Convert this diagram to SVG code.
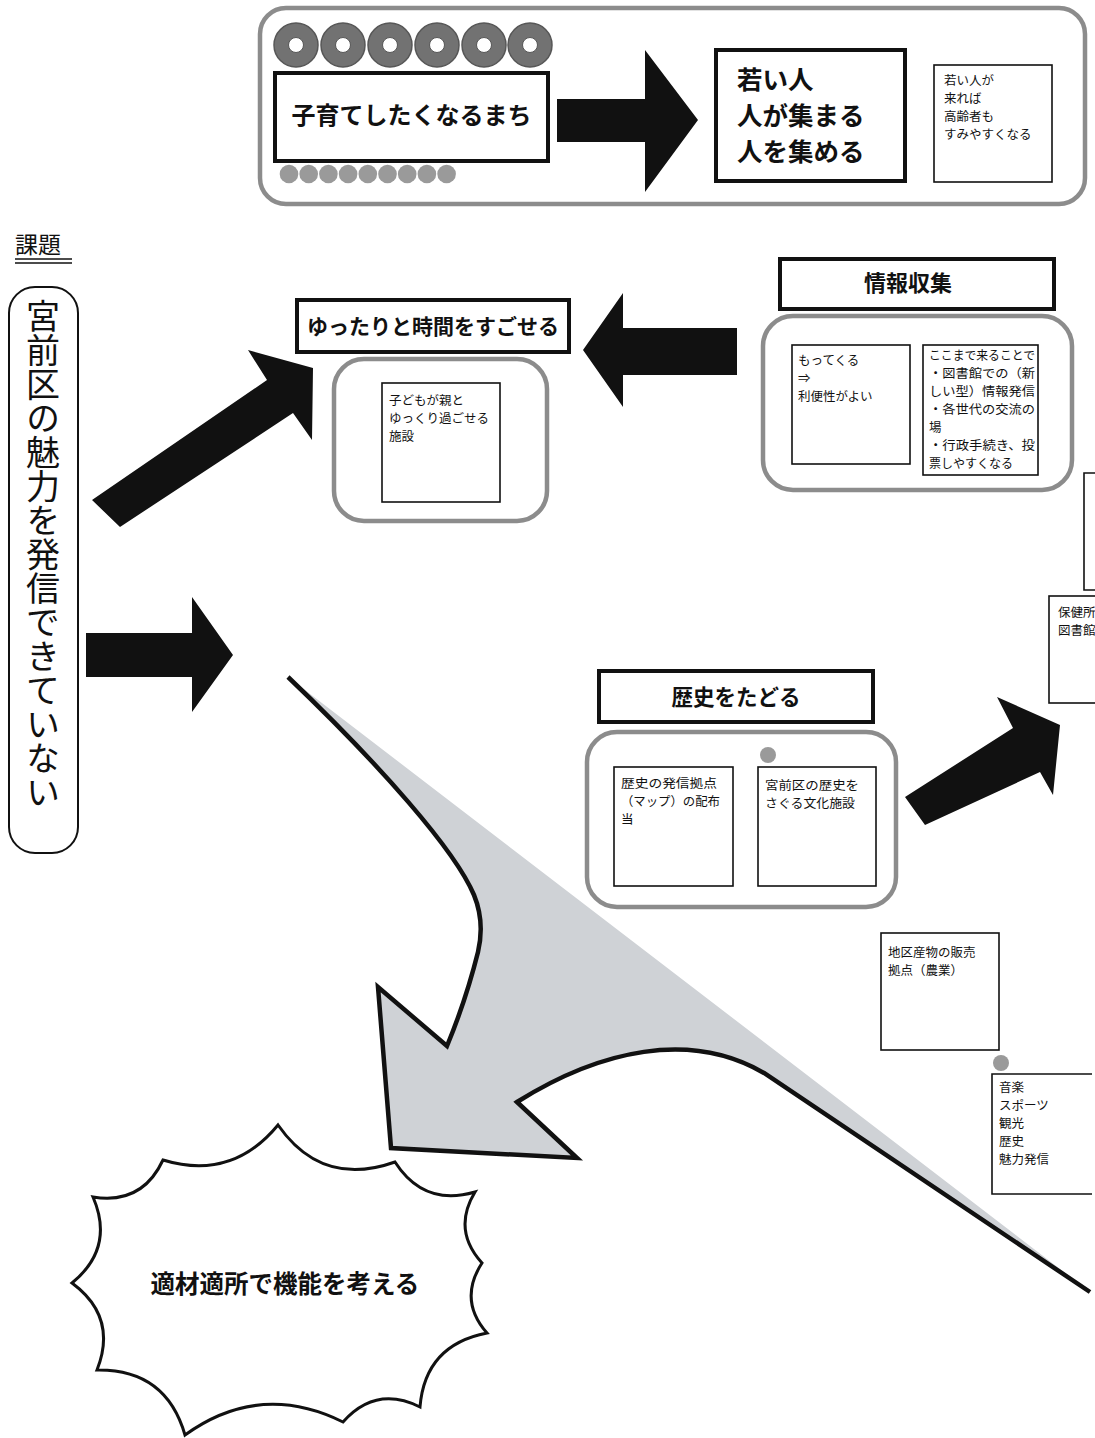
<svg xmlns="http://www.w3.org/2000/svg" width="1095" height="1438" viewBox="0 0 1095 1438">
<defs>
<style>
text{font-family:"Noto Sans CJK JP","Noto Sans CJK SC",sans-serif;fill:#111}
.b{font-weight:700}
.sm{font-size:12.5px}
.grp{fill:#fff;stroke:#8c8c8c;stroke-width:4.5}
.hd{fill:#fff;stroke:#111;stroke-width:4}
.bx{fill:#fff;stroke:#111;stroke-width:1.6}
.ar{fill:#111;stroke:none}
.dot{fill:#9a9a9a}
.ring{fill:#727272;stroke:#575757;stroke-width:1.5}
.hole{fill:#fff;stroke:#575757;stroke-width:1}
</style>
</defs>
<rect width="1095" height="1438" fill="#fff"/>

<g id="banner">
<rect x="260" y="8" width="825" height="196" rx="26" class="grp"/>
<g id="rings">
<circle cx="296" cy="45" r="22" class="ring"/><circle cx="296" cy="45" r="7.5" class="hole"/>
<circle cx="343" cy="45" r="22" class="ring"/><circle cx="343" cy="45" r="7.5" class="hole"/>
<circle cx="390" cy="45" r="22" class="ring"/><circle cx="390" cy="45" r="7.5" class="hole"/>
<circle cx="437" cy="45" r="22" class="ring"/><circle cx="437" cy="45" r="7.5" class="hole"/>
<circle cx="484" cy="45" r="22" class="ring"/><circle cx="484" cy="45" r="7.5" class="hole"/>
<circle cx="530" cy="45" r="22" class="ring"/><circle cx="530" cy="45" r="7.5" class="hole"/>
</g>
<g id="dots">
<circle cx="289" cy="174" r="9.3" class="dot"/><circle cx="308.7" cy="174" r="9.3" class="dot"/><circle cx="328.4" cy="174" r="9.3" class="dot"/>
<circle cx="348.1" cy="174" r="9.3" class="dot"/><circle cx="367.8" cy="174" r="9.3" class="dot"/><circle cx="387.5" cy="174" r="9.3" class="dot"/>
<circle cx="407.2" cy="174" r="9.3" class="dot"/><circle cx="426.9" cy="174" r="9.3" class="dot"/><circle cx="446.6" cy="174" r="9.3" class="dot"/>
</g>
</g>

<g id="kosodate">
<rect x="275" y="73" width="273" height="88" class="hd"/>
<text x="411.5" y="124" text-anchor="middle" class="b" font-size="24">子育てしたくなるまち</text>
</g>

<g id="wakaihito">
<rect x="716" y="50" width="189" height="131" class="hd" stroke-width="3"/>
<text x="737" y="89" class="b" font-size="25.5">若い人</text>
<text x="737" y="125" class="b" font-size="25.5">人が集まる</text>
<text x="737" y="161" class="b" font-size="25.5">人を集める</text>
</g>

<g id="note-top">
<rect x="934" y="65" width="118" height="117" class="bx"/>
<text class="sm" x="944" y="85">若い人が</text>
<text class="sm" x="944" y="103">来れば</text>
<text class="sm" x="944" y="121">高齢者も</text>
<text class="sm" x="944" y="139">すみやすくなる</text>
</g>

<g id="kadai">
<text x="15" y="253" font-size="23">課題</text>
<line x1="15" y1="259" x2="72" y2="259" stroke="#111" stroke-width="1.5"/>
<line x1="15" y1="263" x2="72" y2="263" stroke="#111" stroke-width="1.5"/>
</g>

<g id="issue">
<rect x="9" y="287" width="69" height="566" rx="26" fill="#fff" stroke="#111" stroke-width="2"/>
<text x="43" y="299" font-size="34" style="writing-mode:vertical-rl">宮前区の魅力を発信できていない</text>
</g>

<g id="yuttari">
<rect x="297" y="300" width="272" height="52" class="hd"/>
<text x="433" y="334" text-anchor="middle" class="b" font-size="21">ゆったりと時間をすごせる</text>
<rect x="334" y="359" width="213" height="162" rx="30" class="grp"/>
<rect x="382" y="383" width="118" height="119" class="bx"/>
<text class="sm" x="389" y="405">子どもが親と</text>
<text class="sm" x="389" y="423">ゆっくり過ごせる</text>
<text class="sm" x="389" y="441">施設</text>
</g>

<g id="joho">
<rect x="780" y="259" width="274" height="50" class="hd"/>
<text x="908" y="291" text-anchor="middle" class="b" font-size="22">情報収集</text>
<rect x="763" y="316" width="309" height="174" rx="30" class="grp"/>
<rect x="792" y="345" width="118" height="119" class="bx"/>
<text class="sm" x="798" y="365">もってくる</text>
<text class="sm" x="798" y="383">⇒</text>
<text class="sm" x="798" y="401">利便性がよい</text>
<rect x="923" y="345" width="115" height="130" class="bx"/>
<text class="sm" x="929" y="360" textLength="106" lengthAdjust="spacingAndGlyphs">ここまで来ることで</text>
<text class="sm" x="929" y="378" textLength="106" lengthAdjust="spacingAndGlyphs">・図書館での（新</text>
<text class="sm" x="929" y="396" textLength="106" lengthAdjust="spacingAndGlyphs">しい型）情報発信</text>
<text class="sm" x="929" y="414" textLength="106" lengthAdjust="spacingAndGlyphs">・各世代の交流の</text>
<text class="sm" x="929" y="432">場</text>
<text class="sm" x="929" y="450" textLength="106" lengthAdjust="spacingAndGlyphs">・行政手続き、投</text>
<text class="sm" x="929" y="468" textLength="84" lengthAdjust="spacingAndGlyphs">票しやすくなる</text>
</g>

<g id="right-partial">
<path d="M1100,473 H1084 V590 H1100" fill="#fff" stroke="#111" stroke-width="1.6"/>
<rect x="1049" y="596" width="60" height="107" class="bx"/>
<text class="sm" x="1058" y="617">保健所</text>
<text class="sm" x="1058" y="635">図書館</text>
</g>

<g id="rekishi">
<rect x="599" y="671" width="274" height="51" class="hd"/>
<text x="736" y="705" text-anchor="middle" class="b" font-size="21.5">歴史をたどる</text>
<rect x="587" y="732" width="309" height="175" rx="30" class="grp"/>
<circle cx="768" cy="755" r="8" class="dot"/>
<rect x="614" y="767" width="119" height="119" class="bx"/>
<text class="sm" x="621" y="788" textLength="96" lengthAdjust="spacingAndGlyphs">歴史の発信拠点</text>
<text class="sm" x="621" y="806" textLength="99" lengthAdjust="spacingAndGlyphs">（マップ）の配布</text>
<text class="sm" x="621" y="824">当</text>
<rect x="758" y="767" width="118" height="119" class="bx"/>
<text class="sm" x="765" y="790" textLength="94" lengthAdjust="spacingAndGlyphs">宮前区の歴史を</text>
<text class="sm" x="765" y="808" textLength="90" lengthAdjust="spacingAndGlyphs">さぐる文化施設</text>
</g>

<g id="sanbutsu">
<rect x="881" y="933" width="118" height="117" class="bx"/>
<text class="sm" x="888" y="957">地区産物の販売</text>
<text class="sm" x="888" y="975">拠点（農業）</text>
</g>

<g id="ongaku">
<circle cx="1001" cy="1063" r="8" class="dot"/>
<path d="M1092,1074 H992 V1194 H1092" fill="#fff" stroke="#111" stroke-width="1.6"/>
<text class="sm" x="999" y="1092">音楽</text>
<text class="sm" x="999" y="1110">スポーツ</text>
<text class="sm" x="999" y="1128">観光</text>
<text class="sm" x="999" y="1146">歴史</text>
<text class="sm" x="999" y="1164">魅力発信</text>
</g>

<g id="connectors">
<polygon class="ar" points="86,633 192,633 192,597 233,655 192,712 192,677 86,677"/>
<polygon class="ar" points="92,500 267,380 248,350 313,368 312,440 293,413 120,527"/>
<polygon class="ar" points="737,328 623,328 623,293 583,350 623,407 623,375 737,375"/>
<polygon class="ar" points="557,99 645,99 645,50 698,120 645,192 645,142 557,142"/>
<polygon class="ar" points="905,797 1013,728 997,697 1060,725 1053,795 1040,772 925,825"/>
<path id="big-arrow" d="M288,677 C380,765 455,850 474,895 Q485,922 478,952 Q466,1000 447,1046 L378,987 L391,1148 L577,1158 L517,1102 C600,1050 690,1030 764,1073 L1090,1292" fill="#cfd2d6" stroke="#111" stroke-width="4.5" stroke-linejoin="miter"/>
</g>

<g id="burst">
<path d="M278,1125 Q322,1188 395,1162 Q424,1207 475,1192 Q452,1230 482,1263 Q458,1300 487,1333 Q425,1345 420,1407 Q376,1385 343,1422 Q260,1381 185,1435 Q166,1369 97,1370 Q118,1317 72,1283 Q115,1248 93,1197 Q142,1205 163,1160 Q232,1181 278,1125 Z" fill="#fff" stroke="#111" stroke-width="3"/>
<text x="285" y="1293" text-anchor="middle" class="b" font-size="24.5">適材適所で機能を考える</text>
</g>
</svg>
